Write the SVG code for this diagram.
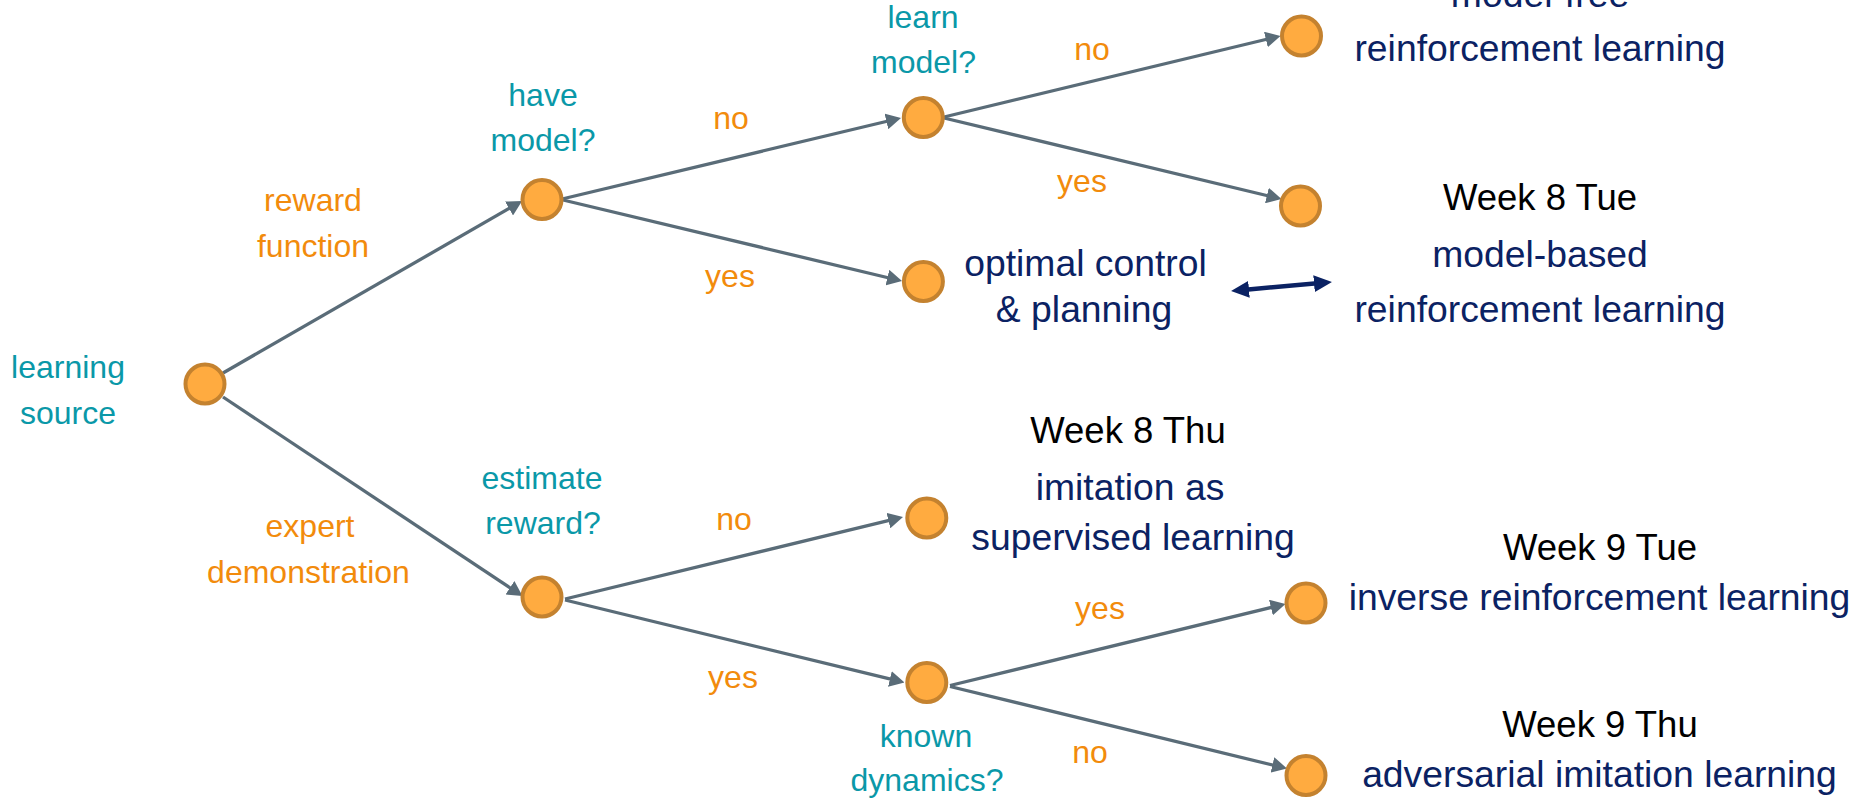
<svg xmlns="http://www.w3.org/2000/svg" width="1858" height="800" viewBox="0 0 1858 800">
  <style>
    text { font-family: "Liberation Sans", Arial, Helvetica, sans-serif; text-anchor: middle; }
    .q { fill: #0A98A8; font-size: 32px; }
    .a { fill: #F28B0C; font-size: 32px; }
    .t { fill: #0B2263; font-size: 37.3px; }
    .w { fill: #000000; font-size: 36.5px; }
    .node { fill: #FFAB40; stroke: #C4822F; stroke-width: 4; }
    .edge { stroke: #5A6C78; stroke-width: 3.3; fill: none; marker-end: url(#arrow); }
    .link { stroke: #0B2263; stroke-width: 4.5; fill: none; marker-start: url(#arrowNavy); marker-end: url(#arrowNavy); }
  </style>
  <defs>
    <marker id="arrow" viewBox="0 0 15 16" refX="4" refY="8" markerWidth="15" markerHeight="16" markerUnits="userSpaceOnUse" orient="auto">
      <path d="M0,0 L15,8 L0,16 z" fill="#5A6C78"/>
    </marker>
    <marker id="arrowNavy" viewBox="0 0 18 17" refX="6" refY="8.5" markerWidth="18" markerHeight="17" markerUnits="userSpaceOnUse" orient="auto-start-reverse">
      <path d="M0,0 L18,8.5 L0,17 z" fill="#0B2263"/>
    </marker>
  </defs>

  <rect width="1858" height="800" fill="#FFFFFF"/>

  <!-- connectors -->
  <g id="connectors">
    <line class="edge" x1="223" y1="373" x2="512.5" y2="206.5"/>
    <line class="edge" x1="223" y1="397" x2="513.3" y2="590"/>
    <line class="edge" x1="562" y1="199" x2="890.3" y2="120.5"/>
    <line class="edge" x1="563" y1="200" x2="891.3" y2="278.5"/>
    <line class="edge" x1="944" y1="117" x2="1269.8" y2="38.5"/>
    <line class="edge" x1="944" y1="118" x2="1270.8" y2="196.5"/>
    <line class="edge" x1="565" y1="599" x2="892.3" y2="519.6"/>
    <line class="edge" x1="565" y1="600" x2="893.8" y2="679.9"/>
    <line class="edge" x1="950" y1="685.5" x2="1274.8" y2="606.6"/>
    <line class="edge" x1="950" y1="686.5" x2="1276.3" y2="765.9"/>
    <line class="link" x1="1243" y1="289.9" x2="1320" y2="283.1"/>
  </g>

  <!-- decision nodes -->
  <g id="root">
    <circle class="node" cx="205" cy="384" r="19.5"/>
    <text class="q" x="68" y="378">learning</text>
    <text class="q" x="68" y="423.5">source</text>
  </g>
  <g id="edge-label-reward">
    <text class="a" x="313" y="211">reward</text>
    <text class="a" x="313" y="256.5">function</text>
  </g>
  <g id="edge-label-expert">
    <text class="a" x="310" y="536.5">expert</text>
    <text class="a" x="308.5" y="583">demonstration</text>
  </g>

  <g id="have-model">
    <circle class="node" cx="542" cy="199.5" r="19.5"/>
    <text class="q" x="543" y="106">have</text>
    <text class="q" x="543" y="150.5">model?</text>
    <text class="a" x="731" y="128.5">no</text>
    <text class="a" x="730" y="287">yes</text>
  </g>

  <g id="learn-model">
    <circle class="node" cx="923.3" cy="117.5" r="19.5"/>
    <text class="q" x="923" y="27.5">learn</text>
    <text class="q" x="923.5" y="72.5">model?</text>
    <text class="a" x="1092" y="59.5">no</text>
    <text class="a" x="1082" y="192">yes</text>
  </g>

  <g id="estimate-reward">
    <circle class="node" cx="542" cy="597" r="19.5"/>
    <text class="q" x="542" y="488.5">estimate</text>
    <text class="q" x="543" y="534">reward?</text>
    <text class="a" x="734" y="529.5">no</text>
    <text class="a" x="733" y="687.5">yes</text>
  </g>

  <g id="known-dynamics">
    <circle class="node" cx="926.8" cy="682.5" r="19.5"/>
    <text class="q" x="926" y="747">known</text>
    <text class="q" x="927" y="790.5">dynamics?</text>
    <text class="a" x="1100" y="618.5">yes</text>
    <text class="a" x="1090" y="762.5">no</text>
  </g>

  <!-- outcome nodes -->
  <g id="model-free">
    <circle class="node" cx="1301.5" cy="36" r="19.5"/>
    <text class="t" x="1540" y="6.5">model-free</text>
    <text class="t" x="1540" y="61">reinforcement learning</text>
  </g>

  <g id="model-based">
    <circle class="node" cx="1300.5" cy="206" r="19.5"/>
    <text class="w" x="1540" y="210">Week 8 Tue</text>
    <text class="t" x="1540" y="266.5">model-based</text>
    <text class="t" x="1540" y="321.5">reinforcement learning</text>
  </g>

  <g id="optimal-control">
    <circle class="node" cx="923.4" cy="281.5" r="19.5"/>
    <text class="t" x="1085.5" y="276">optimal control</text>
    <text class="t" x="1084" y="321.5">&amp; planning</text>
  </g>

  <g id="imitation">
    <circle class="node" cx="926.8" cy="518" r="19.5"/>
    <text class="w" x="1128" y="442.5">Week 8 Thu</text>
    <text class="t" x="1130" y="499.5">imitation as</text>
    <text class="t" x="1133" y="550">supervised learning</text>
  </g>

  <g id="inverse-rl">
    <circle class="node" cx="1306" cy="603" r="19.5"/>
    <text class="w" x="1600" y="560">Week 9 Tue</text>
    <text class="t" x="1599.5" y="610">inverse reinforcement learning</text>
  </g>

  <g id="adversarial-il">
    <circle class="node" cx="1306" cy="775.5" r="19.5"/>
    <text class="w" x="1600" y="736.5">Week 9 Thu</text>
    <text class="t" x="1599.5" y="786.5">adversarial imitation learning</text>
  </g>
</svg>
